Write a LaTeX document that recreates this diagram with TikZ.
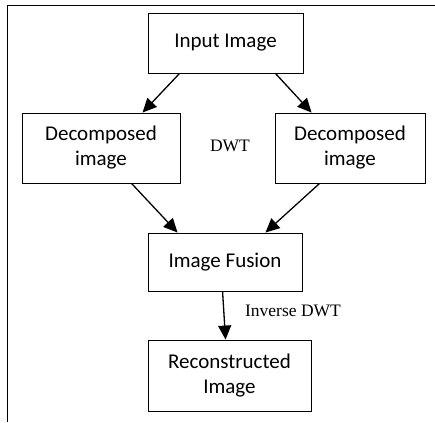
\documentclass[tikz,border=0pt]{standalone}
\usepackage{fontspec}
\setmainfont{Carlito}
\newfontfamily\serifl{Liberation Serif}
\usetikzlibrary{arrows.meta,calc}
\begin{document}
\begin{tikzpicture}[x=1pt,y=-1pt,
  box/.style={draw,line width=0.9pt,inner sep=0pt,align=center,font=\fontsize{21}{25}\selectfont},
  arr/.style={-{Triangle[length=14pt,width=13pt]},line width=1.3pt},
  lbl/.style={font=\serifl\fontsize{17.5}{20}\selectfont}]
\useasboundingbox (0,0) rectangle (435,422);
\draw[line width=1pt] (435,6) -- (7.5,6) -- (7.5,422);
\node[box,minimum width=155pt,minimum height=60pt] (in) at (225.5,43) {Input Image};
\node[box,minimum width=158pt,minimum height=70pt] (dl) at (101,148) {Decomposed\\image};
\node[box,minimum width=150pt,minimum height=70pt] (dr) at (350,148) {Decomposed\\image};
\node[box,minimum width=154pt,minimum height=58pt] (fu) at (225,262) {Image Fusion};
\node[box,minimum width=163pt,minimum height=71pt] (re) at (229.5,375.5) {Reconstructed\\Image};
\node[lbl] (dwt) at (230,146) {DWT};
\node[lbl] (idwt) at (293,311) {Inverse DWT};
\draw[arr] ($(in.south west)+(32,0)$) -- ($(dl.north west)+(121,0)$);
\draw[arr] ($(in.south east)+(-28,0)$) -- ($(dr.north west)+(37,0)$);
\draw[arr] ($(dl.south west)+(110,0)$) -- ($(fu.north west)+(30,0)$);
\draw[arr] ($(dr.south west)+(45,0)$) -- ($(fu.north east)+(-37,0)$);
\draw[arr] ($(fu.south west)+(75,0)$) -- ($(re.north west)+(78,0)$);
\end{tikzpicture}
\end{document}
